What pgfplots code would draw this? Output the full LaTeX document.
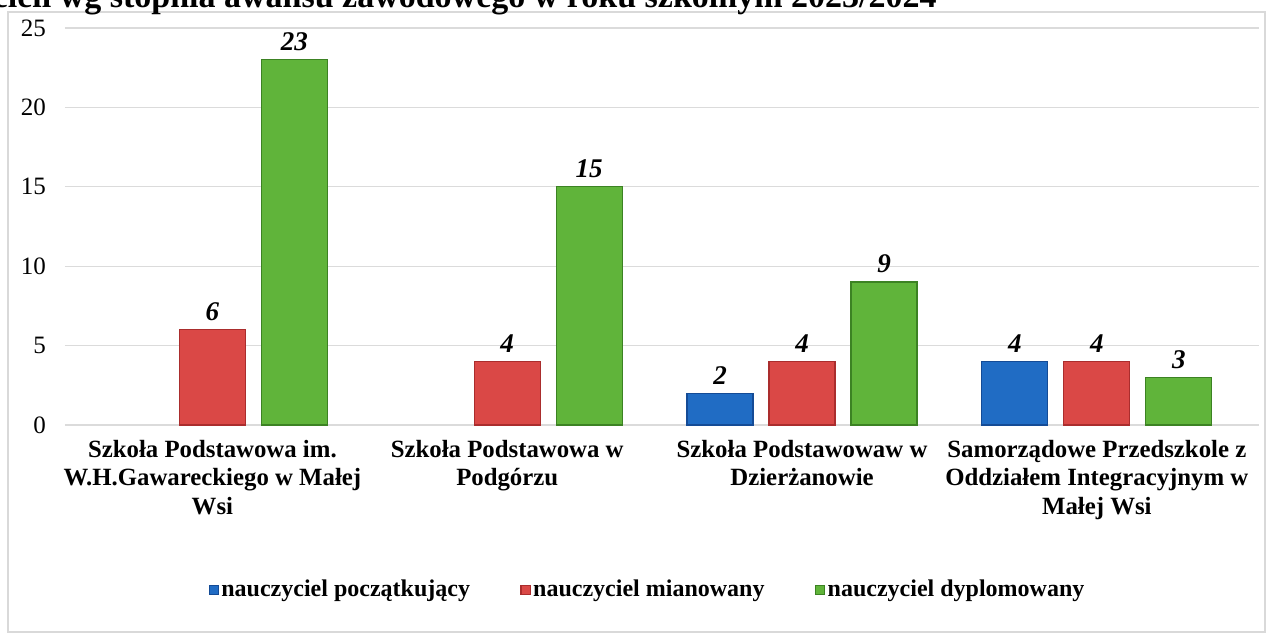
\documentclass[border=0pt]{standalone}
\usepackage{pgfplots}
\pgfplotsset{compat=1.18}
\usepackage{fontspec}
\setmainfont{Liberation Serif}
\definecolor{cblue}{RGB}{32,108,196}
\definecolor{cred}{RGB}{218,72,70}
\definecolor{cgreen}{RGB}{96,180,58}
\definecolor{cbluedk}{RGB}{20,75,150}
\definecolor{creddk}{RGB}{170,45,45}
\definecolor{cgreendk}{RGB}{60,130,35}
\begin{document}
\begin{tikzpicture}
\clip (0,0) rectangle (635pt,319pt);
\fill[white] (0,0) rectangle (635pt,319pt);
\draw[gray!30, line width=0.6pt] (4pt,3pt) rectangle (632.5pt,313pt);
\node[anchor=base east, font=\bfseries\fontsize{17}{20}\selectfont, inner sep=0pt] at (468.5pt,315pt) {Liczba nauczycieli wg stopnia awansu zawodowego w roku szkolnym 2023/2024};
\begin{axis}[
  at={(32.5pt,106.5pt)}, anchor=south west,
  scale only axis, width=597pt, height=198.5pt,
  xmin=-0.5, xmax=3.55, ymin=0, ymax=25,
  ytick={0,5,10,15,20,25},
  xtick={0,1,2,3},
  xticklabels={{Szkoła Podstawowa im.\\W.H.Gawareckiego w Małej\\Wsi},
               {Szkoła Podstawowa w\\Podgórzu},
               {Szkoła Podstawowaw w\\Dzierżanowie},
               {Samorządowe Przedszkole z\\Oddziałem Integracyjnym w\\Małej Wsi}},
  xticklabel style={font=\bfseries\fontsize{12.4}{14.3}\selectfont, align=center, anchor=north, yshift=-4pt},
  yticklabel style={font=\fontsize{12.5}{14}\selectfont, xshift=-6pt},
  /pgf/number format/assume math mode=true,
  axis line style={draw=none},
  major tick length=0pt,
  ymajorgrids, grid style={gray!28, line width=0.6pt},
  ybar, bar width=33pt,
  legend image code/.code={\draw[#1] (0pt,-2.3pt) rectangle (4.6pt,2.3pt);},
  legend style={at={(0.488,-0.4156)}, anchor=center, draw=none, fill=none,
    font=\bfseries\fontsize{12}{14}\selectfont,
    /tikz/every even column/.append style={column sep=24pt},
    /tikz/every odd column/.append style={column sep=0pt},
    nodes={inner sep=1.2pt}},
  legend columns=3,
  nodes near coords,
  nodes near coords style={font=\bfseries\itshape\fontsize{13.5}{15}\selectfont, anchor=center, yshift=9pt, text=black},
  clip=false,
]
\addplot[bar shift=-41pt, fill=cblue, draw=cbluedk, line width=0.6pt] coordinates {(2,2) (3,4)};
\addplot[bar shift=0pt, fill=cred, draw=creddk, line width=0.6pt] coordinates {(0,6) (1,4) (2,4) (3,4)};
\addplot[bar shift=41pt, fill=cgreen, draw=cgreendk, line width=0.6pt] coordinates {(0,23) (1,15) (2,9) (3,3)};
\legend{nauczyciel początkujący, nauczyciel mianowany, nauczyciel dyplomowany}
\end{axis}
\end{tikzpicture}
\end{document}
